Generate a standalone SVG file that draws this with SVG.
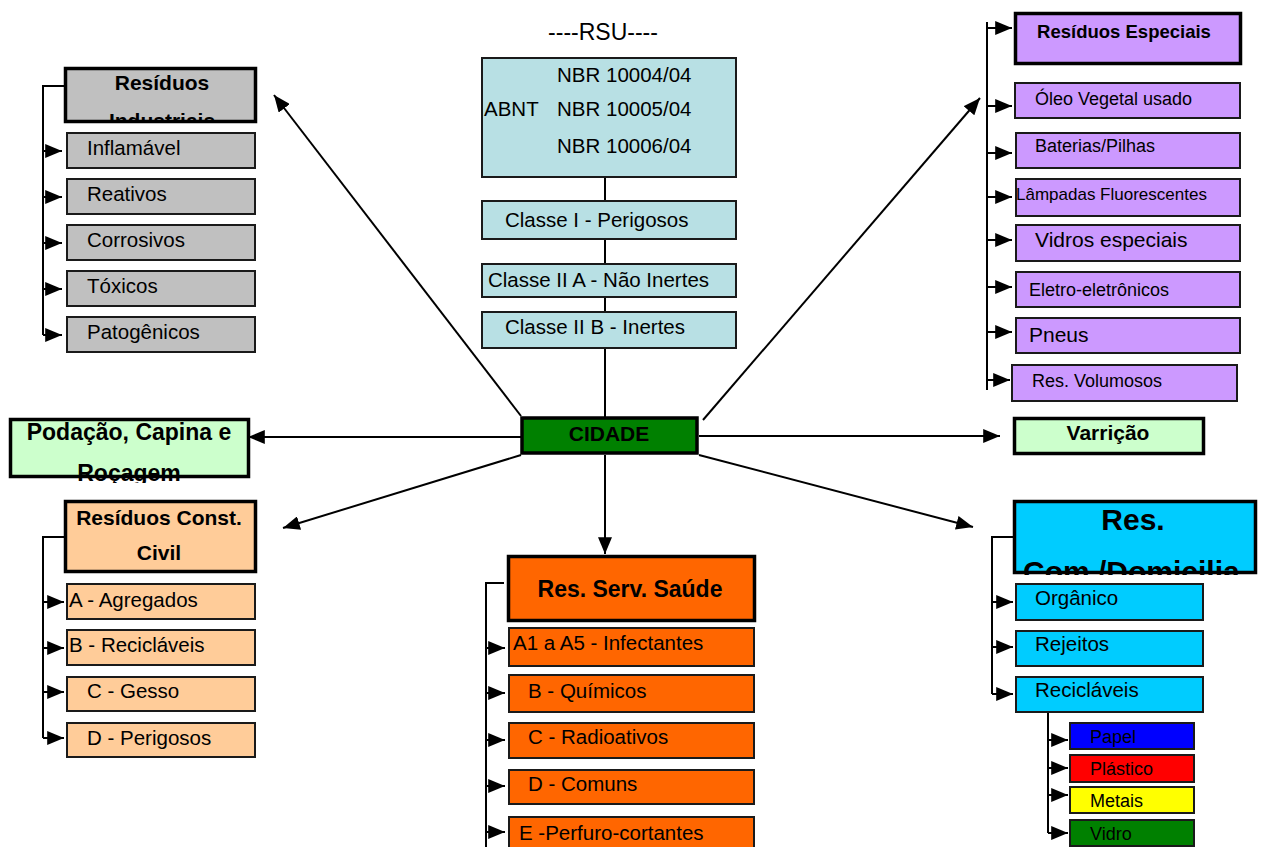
<svg xmlns="http://www.w3.org/2000/svg" width="1264" height="847" viewBox="0 0 1264 847">
<style>
text { font-family: "Liberation Sans", Arial, sans-serif; fill: #000; }
.b { font-weight: bold; }
.n { font-size: 20.5px; }
.s { font-size: 18px; }
.thin { stroke: #1a1a1a; stroke-width: 2; }
.thick { stroke: #000; stroke-width: 3.5; }
.ln { stroke: #000; stroke-width: 2; fill: none; }
.ar { stroke: #000; stroke-width: 2; fill: none; marker-end: url(#ah); }
.gray { fill: #c0c0c0; }
.abnt { fill: #b8e0e4; }
.purp { fill: #cc99ff; }
.lgrn { fill: #ccffcc; }
.peach { fill: #ffcc99; }
.orng { fill: #ff6600; }
.cyan { fill: #00ccff; }
</style>
<defs>
<marker id="ah" viewBox="0 0 12 10" refX="12" refY="5" markerUnits="userSpaceOnUse" markerWidth="17" markerHeight="14" orient="auto">
<path d="M0,0 L12,5 L0,10 z" fill="#000"/>
</marker>
<clipPath id="clipInd"><rect x="64" y="67" width="193" height="55"/></clipPath>
<clipPath id="clipPod"><rect x="9" y="418" width="241" height="65"/></clipPath>
<clipPath id="clipCom"><rect x="1013" y="500" width="244" height="75"/></clipPath>
</defs>

<g id="connectors">
<line class="ln" x1="605" y1="177" x2="605" y2="418"/>
<line class="ar" x1="521" y1="416" x2="274" y2="95"/>
<line class="ar" x1="703" y1="420" x2="980" y2="98"/>
<line class="ar" x1="522" y1="437" x2="248" y2="437"/>
<line class="ar" x1="699" y1="436" x2="1000" y2="436"/>
<line class="ar" x1="521" y1="455" x2="283" y2="528"/>
<line class="ar" x1="699" y1="455" x2="973" y2="527"/>
<line class="ar" x1="605" y1="455" x2="605" y2="554"/>
<!-- industrial bracket -->
<path class="ln" d="M64,86 H43 V335"/>
<line class="ar" x1="43" y1="151" x2="62" y2="151"/>
<line class="ar" x1="43" y1="197" x2="62" y2="197"/>
<line class="ar" x1="43" y1="243" x2="62" y2="243"/>
<line class="ar" x1="43" y1="289" x2="62" y2="289"/>
<line class="ar" x1="43" y1="335" x2="62" y2="335"/>
<!-- especiais bracket -->
<line class="ln" x1="987" y1="22" x2="987" y2="390"/>
<line class="ar" x1="987" y1="28" x2="1012" y2="28"/>
<line class="ar" x1="987" y1="106" x2="1012" y2="106"/>
<line class="ar" x1="987" y1="153" x2="1012" y2="153"/>
<line class="ar" x1="987" y1="197" x2="1012" y2="197"/>
<line class="ar" x1="987" y1="240" x2="1012" y2="240"/>
<line class="ar" x1="987" y1="287" x2="1012" y2="287"/>
<line class="ar" x1="987" y1="332" x2="1012" y2="332"/>
<line class="ar" x1="987" y1="380" x2="1010" y2="380"/>
<!-- construcao bracket -->
<path class="ln" d="M64,537 H43 V738"/>
<line class="ar" x1="43" y1="602" x2="64" y2="602"/>
<line class="ar" x1="43" y1="648" x2="64" y2="648"/>
<line class="ar" x1="43" y1="692" x2="64" y2="692"/>
<line class="ar" x1="43" y1="738" x2="64" y2="738"/>
<!-- saude bracket -->
<path class="ln" d="M504,583 H486 V847"/>
<line class="ar" x1="486" y1="648" x2="505" y2="648"/>
<line class="ar" x1="486" y1="693" x2="505" y2="693"/>
<line class="ar" x1="486" y1="740" x2="505" y2="740"/>
<line class="ar" x1="486" y1="786" x2="505" y2="786"/>
<line class="ar" x1="486" y1="832" x2="505" y2="832"/>
<!-- comercial bracket -->
<path class="ln" d="M1013,537 H992 V694"/>
<line class="ar" x1="992" y1="602" x2="1013" y2="602"/>
<line class="ar" x1="992" y1="647" x2="1013" y2="647"/>
<line class="ar" x1="992" y1="694" x2="1013" y2="694"/>
<!-- reciclaveis bracket -->
<line class="ln" x1="1048" y1="713" x2="1048" y2="833"/>
<line class="ar" x1="1048" y1="740" x2="1068" y2="740"/>
<line class="ar" x1="1048" y1="768" x2="1068" y2="768"/>
<line class="ar" x1="1048" y1="795" x2="1068" y2="795"/>
<line class="ar" x1="1048" y1="833" x2="1068" y2="833"/>
</g>

<text id="rsu" x="603" y="40" text-anchor="middle" style="font-size:23px">----RSU----</text>

<g id="abnt">
<rect class="abnt thin" x="482" y="58" width="254" height="119"/>
<text class="n" x="557" y="82">NBR 10004/04</text>
<text class="n" x="484" y="116">ABNT</text>
<text class="n" x="557" y="116">NBR 10005/04</text>
<text class="n" x="557" y="153">NBR 10006/04</text>
</g>
<g id="classe1">
<rect class="abnt thin" x="482" y="201" width="254" height="38"/>
<text class="n" x="505" y="227">Classe I - Perigosos</text>
</g>
<g id="classe2a">
<rect class="abnt thin" x="482" y="264" width="254" height="33"/>
<text class="n" x="488" y="287">Classe II A - Não Inertes</text>
</g>
<g id="classe2b">
<rect class="abnt thin" x="482" y="312" width="254" height="36"/>
<text class="n" x="505" y="334">Classe II B - Inertes</text>
</g>

<g id="cidade">
<rect x="522" y="418" width="175" height="35" fill="#008000" stroke="#000" stroke-width="3.5"/>
<text class="b" x="609" y="441" text-anchor="middle" style="font-size:21px">CIDADE</text>
</g>

<g id="industriais">
<rect class="gray thick" x="65.5" y="68.5" width="190" height="53"/>
<g clip-path="url(#clipInd)">
<text class="b" x="162" y="90" text-anchor="middle" style="font-size:21px">Resíduos</text>
<text class="b" x="162" y="128" text-anchor="middle" style="font-size:21px">Industriais</text>
</g>
</g>
<g id="inflamavel"><rect class="gray thin" x="67" y="133" width="188" height="35"/><text class="n" x="87" y="155">Inflamável</text></g>
<g id="reativos"><rect class="gray thin" x="67" y="179" width="188" height="35"/><text class="n" x="87" y="201">Reativos</text></g>
<g id="corrosivos"><rect class="gray thin" x="67" y="225" width="188" height="35"/><text class="n" x="87" y="247">Corrosivos</text></g>
<g id="toxicos"><rect class="gray thin" x="67" y="271" width="188" height="35"/><text class="n" x="87" y="293">Tóxicos</text></g>
<g id="patogenicos"><rect class="gray thin" x="67" y="317" width="188" height="35"/><text class="n" x="87" y="339">Patogênicos</text></g>

<g id="especiais">
<rect class="purp thick" x="1015.5" y="13.5" width="225" height="50"/>
<text class="b" x="1124" y="38" text-anchor="middle" style="font-size:18.5px">Resíduos Especiais</text>
</g>
<g id="oleo"><rect class="purp thin" x="1015" y="83" width="225" height="35"/><text class="s" x="1035" y="105">Óleo Vegetal usado</text></g>
<g id="baterias"><rect class="purp thin" x="1016" y="133" width="224" height="35"/><text class="s" x="1035" y="152">Baterias/Pilhas</text></g>
<g id="lampadas"><rect class="purp thin" x="1016" y="179" width="224" height="37"/><text x="1016" y="200" style="font-size:17px">Lâmpadas Fluorescentes</text></g>
<g id="vidros"><rect class="purp thin" x="1016" y="225" width="224" height="36"/><text x="1035" y="247" style="font-size:21px">Vidros especiais</text></g>
<g id="eletro"><rect class="purp thin" x="1016" y="272" width="224" height="35"/><text class="s" x="1029" y="296">Eletro-eletrônicos</text></g>
<g id="pneus"><rect class="purp thin" x="1016" y="318" width="224" height="35"/><text x="1029" y="342" style="font-size:21px">Pneus</text></g>
<g id="volumosos"><rect class="purp thin" x="1012" y="365" width="225" height="36"/><text class="s" x="1032" y="387">Res. Volumosos</text></g>

<g id="podacao">
<rect class="lgrn thick" x="10.5" y="419.5" width="238" height="57"/>
<g clip-path="url(#clipPod)">
<text class="b" x="129" y="440" text-anchor="middle" style="font-size:23px">Podação, Capina e</text>
<text class="b" x="129" y="481" text-anchor="middle" style="font-size:23px">Roçagem</text>
</g>
</g>

<g id="varricao">
<rect class="lgrn thick" x="1014.5" y="418.5" width="189" height="35"/>
<text class="b" x="1108" y="440" text-anchor="middle" style="font-size:21px">Varrição</text>
</g>

<g id="construcao">
<rect class="peach thick" x="65.5" y="501.5" width="190" height="70"/>
<text class="b" x="159" y="525" text-anchor="middle" style="font-size:21px">Resíduos Const.</text>
<text class="b" x="159" y="560" text-anchor="middle" style="font-size:21px">Civil</text>
</g>
<g id="agregados"><rect class="peach thin" x="67" y="584" width="188" height="35"/><text class="n" x="69" y="607">A - Agregados</text></g>
<g id="reciclaveisB"><rect class="peach thin" x="67" y="630" width="188" height="35"/><text class="n" x="69" y="652">B - Recicláveis</text></g>
<g id="gesso"><rect class="peach thin" x="67" y="677" width="188" height="34"/><text class="n" x="87" y="698">C - Gesso</text></g>
<g id="perigososD"><rect class="peach thin" x="67" y="723" width="188" height="34"/><text class="n" x="87" y="745">D - Perigosos</text></g>

<g id="saude">
<rect class="orng thick" x="508.5" y="556.5" width="246" height="64"/>
<text class="b" x="630" y="597" text-anchor="middle" style="font-size:23px">Res. Serv. Saúde</text>
</g>
<g id="infectantes"><rect class="orng thin" x="509" y="628" width="245" height="38"/><text class="n" x="513" y="650">A1 a A5 - Infectantes</text></g>
<g id="quimicos"><rect class="orng thin" x="509" y="675" width="245" height="37"/><text class="n" x="528" y="698">B - Químicos</text></g>
<g id="radioativos"><rect class="orng thin" x="509" y="723" width="245" height="35"/><text class="n" x="528" y="744">C - Radioativos</text></g>
<g id="comuns"><rect class="orng thin" x="509" y="770" width="245" height="34"/><text class="n" x="528" y="791">D - Comuns</text></g>
<g id="perfuro"><rect class="orng thin" x="509" y="817" width="245" height="40"/><text class="n" x="519" y="840">E -Perfuro-cortantes</text></g>

<g id="comercial">
<rect class="cyan thick" x="1014.5" y="501.5" width="241" height="71"/>
<g clip-path="url(#clipCom)">
<text class="b" x="1133" y="530" text-anchor="middle" style="font-size:30px">Res.</text>
<text class="b" x="1023" y="582" style="font-size:30px">Com./Domicilia</text>
</g>
</g>
<g id="organico"><rect class="cyan thin" x="1016" y="584" width="187" height="36"/><text class="n" x="1035" y="605">Orgânico</text></g>
<g id="rejeitos"><rect class="cyan thin" x="1016" y="631" width="187" height="35"/><text class="n" x="1035" y="651">Rejeitos</text></g>
<g id="reciclaveis"><rect class="cyan thin" x="1016" y="677" width="187" height="35"/><text class="n" x="1035" y="697">Recicláveis</text></g>

<g id="papel"><rect class="thin" fill="#0000ff" x="1070" y="723" width="124" height="26"/><text class="s" x="1090" y="743">Papel</text></g>
<g id="plastico"><rect class="thin" fill="#ff0000" x="1070" y="755" width="124" height="27"/><text class="s" x="1090" y="775">Plástico</text></g>
<g id="metais"><rect class="thin" fill="#ffff00" x="1070" y="787" width="124" height="26"/><text class="s" x="1090" y="807">Metais</text></g>
<g id="vidro"><rect class="thin" fill="#008000" x="1070" y="820" width="124" height="26"/><text class="s" x="1090" y="840">Vidro</text></g>
</svg>
